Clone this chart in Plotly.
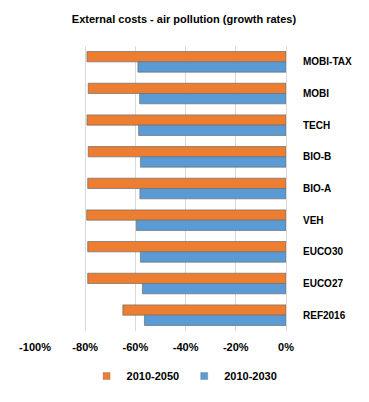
import plotly.graph_objects as go

categories = ["MOBI-TAX", "MOBI", "TECH", "BIO-B", "BIO-A", "VEH", "EUCO30", "EUCO27", "REF2016"]
growth_2010_2050 = [-79.3, -78.8, -79.3, -78.8, -79.0, -79.4, -79.0, -79.0, -65.0]
growth_2010_2030 = [-59.0, -58.3, -58.7, -58.0, -58.2, -59.6, -58.0, -57.2, -56.4]
series_names = ["2010-2050", "2010-2030"]
series_colors = ["#ED7D31", "#5B9BD5"]
tick_values = [-100, -80, -60, -40, -20, 0]
tick_labels = ["-100%", "-80%", "-60%", "-40%", "-20%", "0%"]

font_family = "Liberation Sans, Arial, sans-serif"

# page body adds an 8px offset, so the figure is 8px smaller than the window
W, H = 361, 394

fig = go.Figure()
for name, vals, col in zip(series_names, [growth_2010_2050, growth_2010_2030], series_colors):
    fig.add_trace(go.Bar(
        y=categories, x=vals, name=name, orientation="h", showlegend=False,
        marker=dict(color=col, line=dict(color="rgba(110,110,110,0.7)", width=1)),
    ))
# legend-only markers (small squares like the reference)
for name, col in zip(series_names, series_colors):
    fig.add_trace(go.Scatter(
        x=[None], y=[None], mode="markers", name="<b>%s</b>" % name,
        marker=dict(symbol="square", size=7, color=col,
                    line=dict(color="rgba(110,110,110,0.7)", width=0.5)),
        showlegend=True,
    ))

fig.update_layout(
    width=W, height=H,
    margin=dict(l=27, r=83, t=38, b=65),
    paper_bgcolor="white", plot_bgcolor="white",
    barmode="group", bargap=0.35, bargroupgap=0,
    title=dict(text="<b>External costs - air pollution (growth rates)</b>",
               x=176 / W, xanchor="center", y=1 - 11 / H, yanchor="middle",
               font=dict(family=font_family, size=11, color="black")),
    font=dict(family=font_family, size=11, color="black"),
    xaxis=dict(range=[-100, 0], tickvals=tick_values, ticktext=["<b>%s</b>" % t for t in tick_labels],
               showgrid=True, gridcolor="#D9D9D9", gridwidth=1, zeroline=False,
               showline=False, ticks="", automargin=False, ticklabelstandoff=8),
    yaxis=dict(categoryorder="array", categoryarray=categories, autorange="reversed",
               side="right", ticks="", showgrid=False, zeroline=False,
               showline=True, linecolor="#D9D9D9", linewidth=1, automargin=False,
               tickvals=categories, ticktext=["<b>%s</b>" % c for c in categories],
               tickfont=dict(size=10), ticklabelstandoff=14),
    showlegend=True,
    legend=dict(orientation="h", x=0.596, xanchor="center", y=-0.158, yanchor="middle",
                traceorder="normal", itemwidth=30, tracegroupgap=0),
)

fig.write_html("out.html")
